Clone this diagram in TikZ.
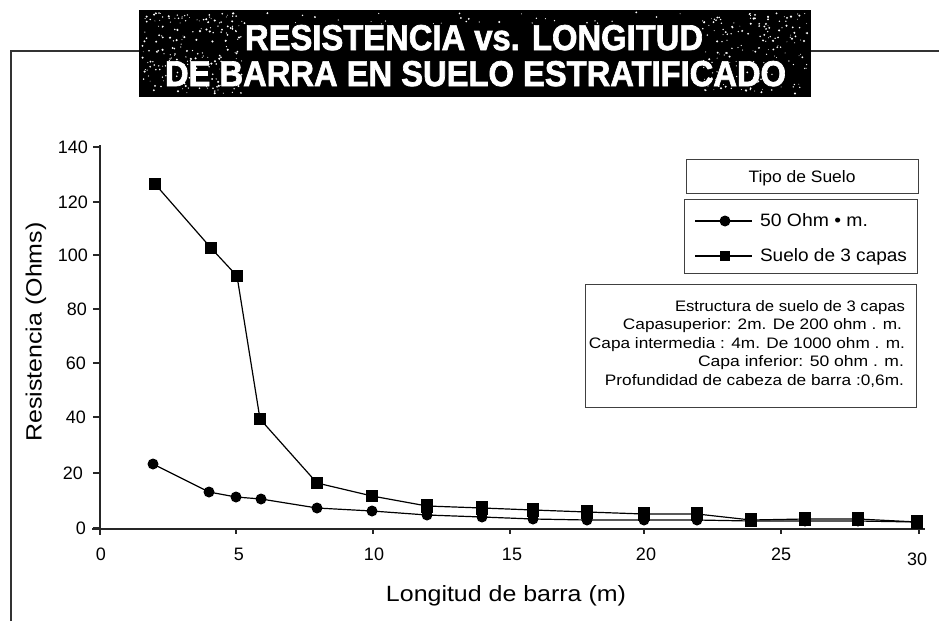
\documentclass[tikz,border=0pt]{standalone}
\usepackage{fontspec}
\setmainfont{Liberation Sans}
\newfontfamily\titlefont[BoldFeatures={FakeBold=2}]{Liberation Sans}
\usepackage{graphicx}
\tikzset{
  frameline/.style={line width=2pt, draw=black!80},
  axisline/.style={line width=1.5pt, draw=black!85},
  tickline/.style={line width=1.2pt, draw=black!85},
  series/.style={line width=1.2pt, draw=black},
  lbox/.style={draw=black!75, line width=1.3pt, inner sep=0pt},
  txt/.style={inner sep=0pt, outer sep=0pt},
  ticklab/.style={txt, font=\fontsize{18}{20}\selectfont},
}
\begin{document}
\begin{tikzpicture}[x=1pt, y=-1pt]
\useasboundingbox (0,0) rectangle (939,621);
\fill[white] (0,0) rectangle (939,621);

% frame
\draw[frameline] (11,621) -- (11,51) -- (139,51);
\draw[frameline] (811,51) -- (939,51);

% title box
\node[fill=black, minimum width=672pt, minimum height=87pt, anchor=north west, inner sep=0pt] (titlebox) at (139,10) {};
\pgfmathsetseed{4242}
\foreach \i in {1,...,200}{
  \pgfmathsetmacro{\rx}{142+rnd*100}
  \pgfmathsetmacro{\ry}{13+rnd*81}
  \pgfmathsetmacro{\rr}{0.4+rnd*0.8}
  \fill[white] (\rx,\ry) circle (\rr pt);
}
\foreach \i in {1,...,170}{
  \pgfmathsetmacro{\rx}{702+rnd*106}
  \pgfmathsetmacro{\ry}{13+rnd*81}
  \pgfmathsetmacro{\rr}{0.4+rnd*0.8}
  \fill[white] (\rx,\ry) circle (\rr pt);
}
\foreach \i in {1,...,50}{
  \pgfmathsetmacro{\rx}{142+rnd*666}
  \pgfmathsetmacro{\ry}{12+rnd*12}
  \pgfmathsetmacro{\rr}{0.4+rnd*0.7}
  \fill[white] (\rx,\ry) circle (\rr pt);
}
\node[txt, anchor=base west, text=white] (title1) at (245,50) {\resizebox{458pt}{25pt}{\titlefont\bfseries RESISTENCIA vs. LONGITUD}};
\node[txt, anchor=base west, text=white] (title2) at (165,86) {\resizebox{621pt}{25pt}{\titlefont\bfseries DE BARRA EN SUELO ESTRATIFICADO}};

% axes
\draw[axisline] (100,145) -- (100,535);
\draw[axisline] (92,529) -- (925,529);
\foreach \yy in {147,202,255,309,363,417,473,528}
  \draw[tickline] (93,\yy) -- (100,\yy);
\foreach \xx in {236,373,510,644,781,919}
  \draw[tickline] (\xx,529) -- (\xx,534);

% y tick labels
\node[ticklab, anchor=base east] (y140) at (88,153.5) {140};
\node[ticklab, anchor=base east] (y120) at (88,208.5) {120};
\node[ticklab, anchor=base east] (y100) at (88,261.5) {100};
\node[ticklab, anchor=base east] (y80) at (87,315.5) {80};
\node[ticklab, anchor=base east] (y60) at (86,369.5) {60};
\node[ticklab, anchor=base east] (y40) at (86,423.5) {40};
\node[ticklab, anchor=base east] (y20) at (83,479.5) {20};
\node[ticklab, anchor=base east] (y0) at (86,534.5) {0};

% x tick labels
\node[ticklab, anchor=base] (x0) at (101,560) {0};
\node[ticklab, anchor=base] (x5) at (239,560) {5};
\node[ticklab, anchor=base] (x10) at (374,560) {10};
\node[ticklab, anchor=base] (x15) at (512,560) {15};
\node[ticklab, anchor=base] (x20) at (646,560) {20};
\node[ticklab, anchor=base] (x25) at (781,560) {25};
\node[ticklab, anchor=base] (x30) at (917,565) {30};

% axis titles
\node[txt, rotate=90] (ylab) at (36,332) {\resizebox{219pt}{16pt}{Resistencia (Ohms)}};
\node[txt, anchor=base] (xlab) at (506,601) {\resizebox{240pt}{16pt}{Longitud de barra (m)}};

% series: 50 Ohm.m
\draw[series] plot coordinates {(153,464) (209,492) (236,497) (261,499) (317,508) (372,511) (427,515) (482,517) (533,519) (587,520) (644,520) (697,520) (751,521) (805,521) (858,521) (917,522)};
\foreach \px/\py in {153/464,209/492,236/497,261/499,317/508,372/511,427/515,482/517,533/519,587/520,644/520,697/520,751/521,805/521,858/521,917/522}
  \fill[black] (\px,\py) circle (5.5pt);

% series: suelo de 3 capas
\draw[series] plot coordinates {(155,184) (211,248) (237,276) (260,419) (317,483) (372,496) (427,506) (482,508) (533,510) (587,512) (644,514) (697,514) (751,520) (805,519) (858,519) (917,522)};
\foreach \px/\py in {155/184,211/248,237/276,260/419,317/483,372/496}
  \fill[black] (\px-6,\py-6) rectangle (\px+6,\py+6);
\foreach \px/\py in {427/506,482/508,533/510,587/512,644/514,697/514,751/520,805/519,858/519,917/522}
  \fill[black] (\px-6,\py-7) rectangle (\px+6,\py+7);

% legend
\node[lbox, minimum width=232pt, minimum height=34pt, anchor=north west] (tipobox) at (686,159) {};
\node[txt, anchor=base] (tipotxt) at (802,182) {\resizebox{107pt}{12pt}{Tipo de Suelo}};
\node[lbox, minimum width=233pt, minimum height=74pt, anchor=north west] (legbox) at (684,199) {};
\coordinate (la1) at (695,221);
\coordinate (lb1) at (752,221);
\draw[series, line width=1.5pt] (la1) -- (lb1);
\fill[black] (725,221) circle (5.5pt);
\node[txt, anchor=base west] (leg1) at (760,226) {\resizebox{108pt}{13pt}{50 Ohm • m.}};
\coordinate (la2) at (695,256);
\coordinate (lb2) at (752,256);
\draw[series, line width=1.5pt] (la2) -- (lb2);
\fill[black] (720,251) rectangle (730,261);
\node[txt, anchor=base west] (leg2) at (760,261.5) {\resizebox{147pt}{13pt}{Suelo de 3 capas}};

% structure box
\node[lbox, minimum width=331pt, minimum height=123pt, anchor=north west] (estbox) at (585,284) {};
\node[txt, anchor=base east] (e1) at (905,311) {\resizebox{230pt}{11pt}{Estructura de suelo de 3 capas}};
\node[txt, anchor=base east] (e2) at (902,329.5) {\resizebox{279pt}{11pt}{Capasuperior: 2m. De 200 ohm . m.}};
\node[txt, anchor=base east] (e3) at (905,348) {\resizebox{316pt}{11pt}{Capa intermedia : 4m. De 1000 ohm . m.}};
\node[txt, anchor=base east] (e4) at (904,366.5) {\resizebox{206pt}{11pt}{Capa inferior: 50 ohm . m.}};
\node[txt, anchor=base east] (e5) at (904,385) {\resizebox{299pt}{11pt}{Profundidad de cabeza de barra :0,6m.}};
\end{tikzpicture}
\end{document}
